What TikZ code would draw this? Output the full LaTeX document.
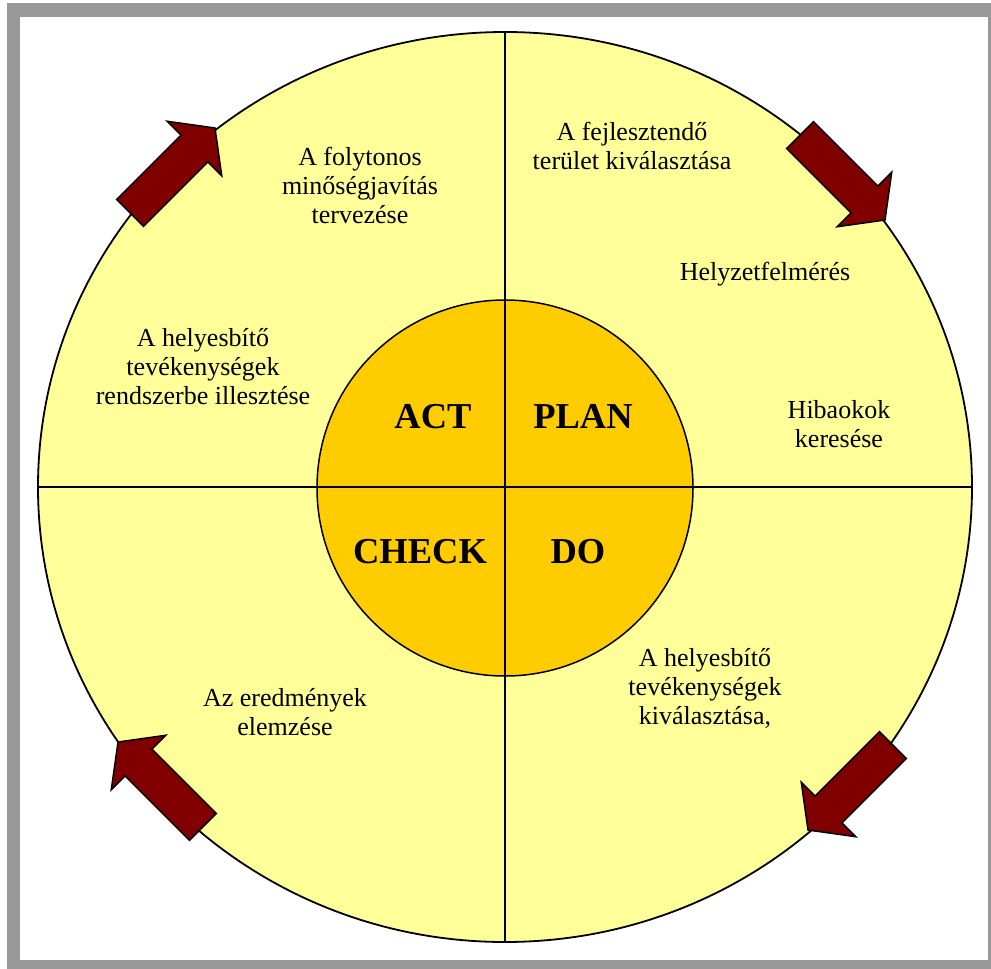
\documentclass[tikz,border=0pt]{standalone}
\usepackage{fontspec}
\setmainfont{Liberation Serif}
\usetikzlibrary{shapes.geometric}

\definecolor{ringyellow}{HTML}{FFFF99}
\definecolor{coregold}{HTML}{FFCC00}
\definecolor{arrowred}{HTML}{800000}
\definecolor{framegray}{HTML}{999999}

% block arrow, tip at #1, pointing at angle #2
\newcommand{\cyclearrow}[2]{%
  \begin{scope}[shift={#1},rotate=#2]
    \draw[ar] (0,0) -- (-29,38.5) -- (-29,19) -- (-120,19)
      -- (-120,-19) -- (-29,-19) -- (-29,-38.5) -- cycle;
  \end{scope}}

\begin{document}
\begin{tikzpicture}[x=1pt,y=-1pt,
    tx/.style={align=center, inner sep=0pt, font=\fontsize{26}{29}\selectfont},
    pd/.style={inner sep=0pt, anchor=base, font=\fontsize{36.5}{40}\selectfont\bfseries},
    ar/.style={fill=arrowred, draw=black, line width=1.5pt, line join=miter},
    ed/.style={-, black, line width=1.8pt}
  ]
    \useasboundingbox (0,0) rectangle (991,969);
    \fill[framegray] (7,3) rectangle (991,969);
    \fill[white] (20,17) rectangle (988,960);

    \node[ellipse, draw, line width=1.8pt, fill=ringyellow, inner sep=0pt, outer sep=0pt,
          minimum width=934pt, minimum height=910pt] (ring) at (505,487) {};
    \node[circle, draw, line width=1.5pt, fill=coregold, inner sep=0pt, outer sep=0pt,
          minimum size=376pt] (core) at (505,488) {};
    \draw[ed] (ring.north) -- (ring.south);
    \draw[ed] (ring.west) -- (ring.east);

    \cyclearrow{(215,128)}{45}
    \cyclearrow{(885,220)}{-45}
    \cyclearrow{(808,830)}{-135}
    \cyclearrow{(118,742)}{135}

    \node[pd] (act)   at (433,428) {ACT};
    \node[pd] (plan)  at (583,428) {PLAN};
    \node[pd] (check) at (420,563) {CHECK};
    \node[pd] (do)    at (578,563) {DO};

    \node[tx] (plan1)  at (632,145.5) {A fejlesztendő\\terület kiválasztása};
    \node[tx] (plan2)  at (765,274)   {Helyzetfelmérés};
    \node[tx] (plan3)  at (839,424)   {Hibaokok\\keresése};
    \node[tx] (do1)    at (705,688)   {A helyesbítő\\tevékenységek\\kiválasztása,};
    \node[tx] (check1) at (285,712)   {Az eredmények\\elemzése};
    \node[tx] (act1)   at (203,367)   {A helyesbítő\\tevékenységek\\rendszerbe illesztése};
    \node[tx] (act2)   at (360,185)   {A folytonos\\minőségjavítás\\tervezése};
\end{tikzpicture}
\end{document}
